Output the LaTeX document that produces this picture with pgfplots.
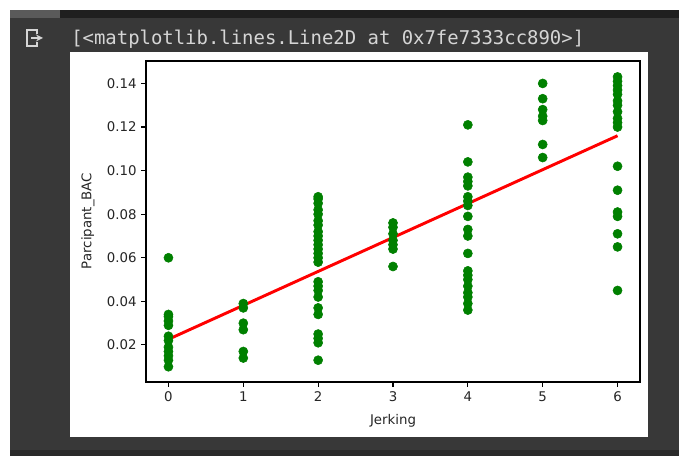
\documentclass[border=0pt]{standalone}
\usepackage{pgfplots}
\pgfplotsset{compat=1.18}
\usepackage{fontspec}
\setmainfont{DejaVu Sans}
\newfontfamily\monofont{DejaVu Sans Mono}
\definecolor{bgdark}{HTML}{383838}
\definecolor{bandgray}{HTML}{5A5A5A}
\definecolor{banddark}{HTML}{1F1F1F}
\definecolor{bottomdark}{HTML}{2A2A2A}
\definecolor{textgray}{HTML}{D5D5D5}
\definecolor{mplgreen}{HTML}{008000}
\definecolor{mplred}{HTML}{FF0000}
\definecolor{ticktext}{HTML}{262626}
\begin{document}
\begin{tikzpicture}[x=0.75pt,y=0.75pt]
\useasboundingbox (0,0) rectangle (679,456);
\fill[white] (0,0) rectangle (679,456);
\fill[bgdark] (10,0) rectangle (679,446);
\fill[bottomdark] (10,0) rectangle (679,6);
\fill[bandgray] (10,438) rectangle (60,446);
\fill[banddark] (60,438) rectangle (679,446);
\fill[white] (70,19) rectangle (648,404);
\node[anchor=west, inner sep=0pt, text=textgray, font=\monofont\fontsize{14.2}{16}\selectfont] at (71,417) {[<matplotlib.lines.Line2D at 0x7fe7333cc890>]};
\draw[textgray, line width=1.3pt] (37,422)--(37,426)--(27,426)--(27,410)--(37,410)--(37,414);
\draw[textgray, line width=1.3pt, -stealth] (31,418)--(43,418);
\begin{axis}[
  at={(109.5pt,55.5pt)}, anchor=south west,
  scale only axis, width=370.5pt, height=240.75pt,
  xmin=-0.3, xmax=6.3, ymin=0.003, ymax=0.1503,
  xtick={0,1,2,3,4,5,6},
  ytick={0.02,0.04,0.06,0.08,0.10,0.12,0.14},
  xtick pos=left, ytick pos=left,
  tick align=outside, major tick length=3.5pt,
  every tick/.style={black, line width=0.8pt},
  axis line style={black, line width=0.8pt},
  tick label style={font=\fontsize{10}{12}\selectfont, text=ticktext},
  label style={font=\fontsize{10}{12}\selectfont, text=ticktext},
  yticklabel style={/pgf/number format/.cd, fixed, fixed zerofill, precision=2},
  /pgf/number format/assume math mode=true,
  scaled y ticks=false,
  xlabel={Jerking}, ylabel={Parcipant\_BAC},
  xlabel style={at={(axis description cs:0.5,-0.1215)}, anchor=center},
  ylabel style={at={(axis description cs:-0.1174,0.5016)}, anchor=center, rotate=0},
  clip=false,
]
\addplot[only marks, mark=*, mark size=3.4pt, mark options={fill=mplgreen, draw=mplgreen}] coordinates {
 (0,0.060) (0,0.034) (0,0.033) (0,0.031) (0,0.029) (0,0.024) (0,0.022) (0,0.019) (0,0.017) (0,0.015) (0,0.013) (0,0.010)
 (1,0.039) (1,0.037) (1,0.030) (1,0.027) (1,0.017) (1,0.014)
 (2,0.088) (2,0.087) (2,0.085) (2,0.082) (2,0.080) (2,0.077) (2,0.075) (2,0.072) (2,0.070) (2,0.068) (2,0.066) (2,0.064) (2,0.062) (2,0.060) (2,0.058) (2,0.049) (2,0.047) (2,0.045) (2,0.042) (2,0.037) (2,0.034) (2,0.025) (2,0.023) (2,0.021) (2,0.013)
 (3,0.076) (3,0.074) (3,0.071) (3,0.068) (3,0.066) (3,0.064) (3,0.056)
 (4,0.121) (4,0.104) (4,0.097) (4,0.095) (4,0.093) (4,0.088) (4,0.086) (4,0.084) (4,0.079) (4,0.073) (4,0.070) (4,0.062) (4,0.054) (4,0.052) (4,0.050) (4,0.047) (4,0.044) (4,0.042) (4,0.039) (4,0.036)
 (5,0.140) (5,0.133) (5,0.128) (5,0.125) (5,0.123) (5,0.112) (5,0.106)
 (6,0.143) (6,0.141) (6,0.139) (6,0.137) (6,0.135) (6,0.132) (6,0.130) (6,0.127) (6,0.124) (6,0.122) (6,0.120) (6,0.102) (6,0.091) (6,0.081) (6,0.079) (6,0.071) (6,0.065) (6,0.045)
};
\addplot[mplred, line width=2.2pt, no marks] coordinates {(0,0.0226) (6,0.1160)};
\end{axis}
\end{tikzpicture}
\end{document}
